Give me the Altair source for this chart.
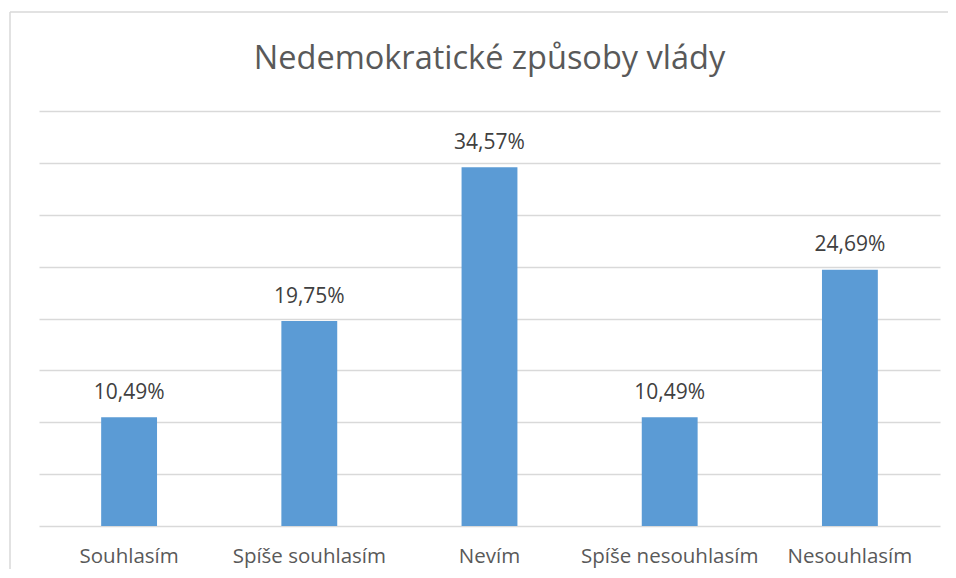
import altair as alt
import pandas as pd

title_text = "Nedemokratické způsoby vlády"
categories = ["Souhlasím", "Spíše souhlasím", "Nevím", "Spíše nesouhlasím", "Nesouhlasím"]
values = [10.49, 19.75, 34.57, 10.49, 24.69]

df = pd.DataFrame({
    "cat": categories,
    "val": values,
    "lbl": [f"{v:.2f}".replace(".", ",") + "%" for v in values],
})

FONT = "Open Sans"
W, H = 901, 415

x_enc = alt.X("cat:N", sort=categories, title=None,
              scale=alt.Scale(paddingInner=0.69, paddingOuter=0.345),
              axis=alt.Axis(domain=False, ticks=False, tickSize=0, labelAngle=0,
                            labelFont=FONT, labelFontSize=20.5, labelColor="#595959",
                            labelBaseline="alphabetic", labelPadding=36, grid=False))
y_enc = alt.Y("val:Q", title=None,
              scale=alt.Scale(domain=[0, 40], nice=False),
              axis=alt.Axis(values=[0, 5, 10, 15, 20, 25, 30, 35, 40], labels=False,
                            domain=False, ticks=False, grid=True,
                            gridColor="#d9d9d9", gridWidth=1.3))

base = alt.Chart(df)
bars = base.mark_bar(color="#5b9bd5").encode(x=x_enc, y=y_enc)
labels = base.mark_text(font=FONT, fontSize=21, color="#404040",
                        baseline="alphabetic", dy=-18.5).encode(
    x=alt.X("cat:N", sort=categories), y="val:Q", text="lbl:N")

tdf = pd.DataFrame({"t": [title_text]})
title = alt.Chart(tdf).mark_text(font=FONT, fontSize=32.5, color="#595959",
                                 baseline="alphabetic", align="center").encode(
    x=alt.value(450.5), y=alt.value(-42.5), text="t:N")

border_top = alt.Chart(tdf).mark_rule(color="#d9d9d9", strokeWidth=1.5).encode(
    x=alt.value(-29), x2=alt.value(2000), y=alt.value(-99))
border_left = alt.Chart(tdf).mark_rule(color="#d9d9d9", strokeWidth=1.5).encode(
    x=alt.value(-29), y=alt.value(-99), y2=alt.value(1000))

chart = alt.layer(border_top, border_left, bars, labels, title).properties(
    width=W, height=H,
    autosize=alt.AutoSizeParams(type="none"),
    padding={"left": 31, "top": 103, "right": 8, "bottom": 43},
).configure(background="white").configure_view(strokeWidth=0, stroke="transparent")

chart.save("out.html", embed_options={"renderer": "svg", "actions": False})
